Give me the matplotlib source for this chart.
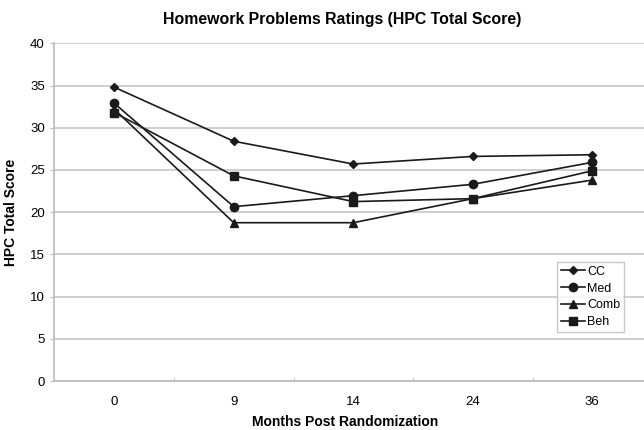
import matplotlib
matplotlib.use("Agg")
import matplotlib.pyplot as plt
from matplotlib.ticker import FixedLocator

plt.rcParams['font.family'] = ['Liberation Sans', 'DejaVu Sans']

months = ["0", "9", "14", "24", "36"]
cc = [34.8, 28.4, 25.7, 26.6, 26.8]
med = [32.9, 20.65, 21.95, 23.3, 25.9]
comb = [32.2, 18.75, 18.75, 21.6, 23.8]
beh = [31.8, 24.3, 21.25, 21.6, 24.9]

series = [("CC", cc, "D", 4.5), ("Med", med, "o", 6),
          ("Comb", comb, "^", 5.5), ("Beh", beh, "s", 5.5)]

fig = plt.figure(figsize=(6.44, 4.30), dpi=100)
ax = fig.add_axes([54.5/644, 49/430, 597.5/644, (381-43.3)/430])

x = list(range(len(months)))
for name, vals, m, ms in series:
    ax.plot(x, vals, color="#1a1a1a", lw=1.2, marker=m, markersize=ms,
            label=name)

ax.set_xlim(-0.5, len(months) - 0.5)
ax.set_ylim(0, 40)
ax.set_yticks(range(0, 41, 5))
ax.set_xticks(x)
ax.set_xticklabels(months, fontsize=9.5)
ax.tick_params(axis='x', length=0, pad=11)
ax.xaxis.set_minor_locator(FixedLocator([i + 0.5 for i in range(len(months) - 1)]))
ax.tick_params(axis='x', which='minor', length=3, direction='in', color='#bbbbbb')
ax.tick_params(axis='y', length=3, color='#bbbbbb', labelsize=9.5, pad=4)
ax.grid(axis='y', color='#cccccc', lw=1.3)
ax.set_axisbelow(True)
for s in ['top', 'right']:
    ax.spines[s].set_visible(False)
for s in ['left', 'bottom']:
    ax.spines[s].set_color('#bbbbbb')
    ax.spines[s].set_linewidth(1.2)

ax.set_title("Homework Problems Ratings (HPC Total Score)", fontsize=11.4,
             fontweight='bold', pad=14, x=(342-54.5)/597.5)
ax.set_xlabel("Months Post Randomization", fontsize=10, fontweight='bold')
ax.xaxis.set_label_coords((345-54.5)/597.5, (381-415)/337.7)
ax.set_ylabel("HPC Total Score", fontsize=10, fontweight='bold')
ax.yaxis.set_label_coords((18-54.5)/597.5, 0.5)

leg = ax.legend(loc='upper left', bbox_to_anchor=((557-54.5)/597.5, (381-262)/337.7),
                fontsize=9, frameon=True, fancybox=False, edgecolor='#bbbbbb',
                handlelength=1.9, handletextpad=0.2, borderpad=0.3,
                labelspacing=0.38, borderaxespad=0)
leg.get_frame().set_linewidth(1.0)

fig.savefig("out.png", dpi=100)
